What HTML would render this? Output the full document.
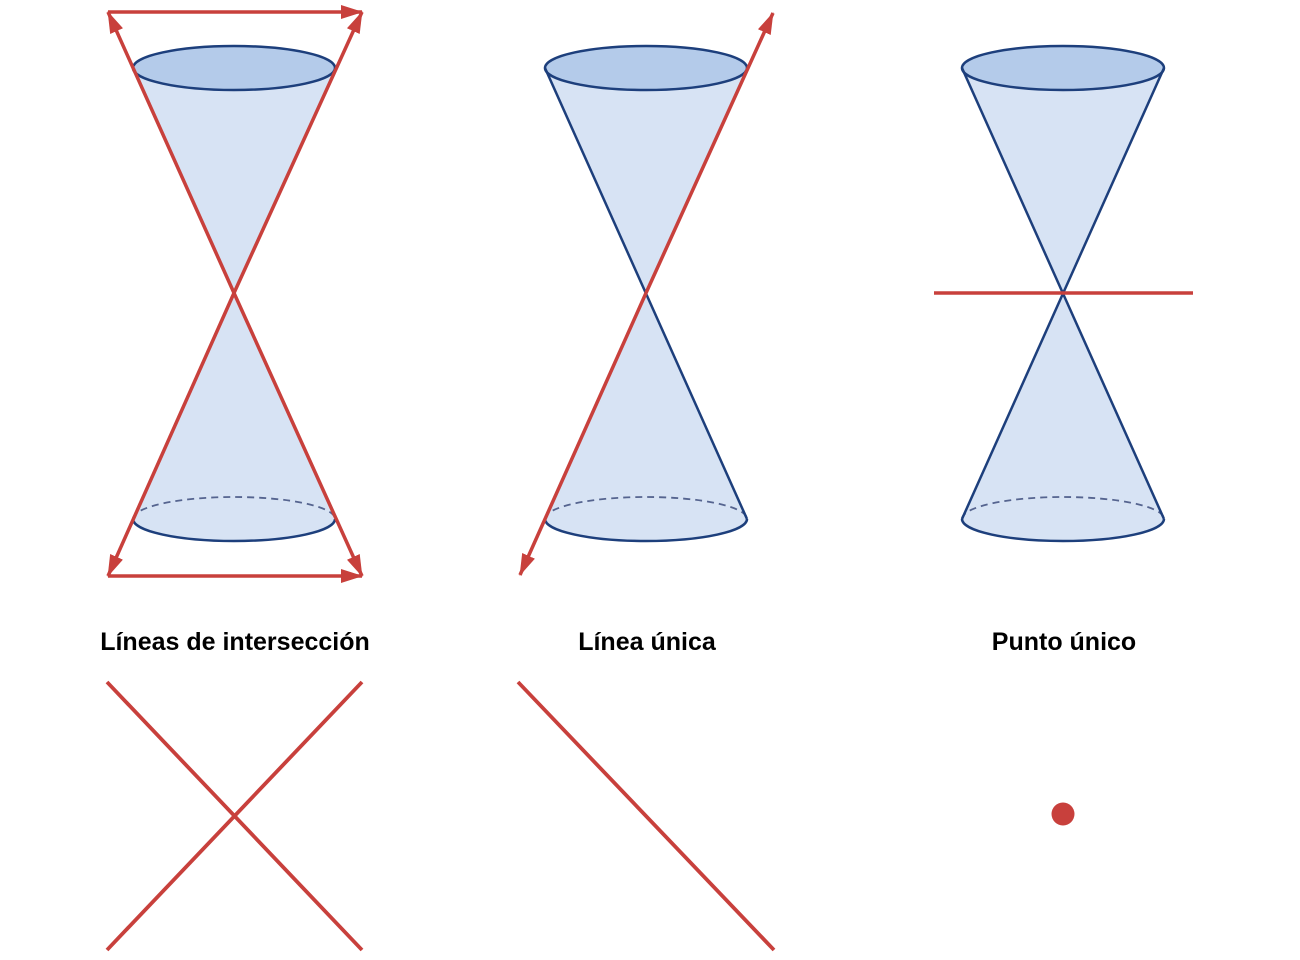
<!DOCTYPE html>
<html><head><meta charset="utf-8"><style>
html,body{margin:0;padding:0;background:#fff;}
svg{display:block}
text{font-family:"Liberation Sans",Arial,sans-serif;font-weight:bold;font-size:25px;fill:#000}
</style></head><body>
<svg width="1300" height="960" viewBox="0 0 1300 960" xmlns="http://www.w3.org/2000/svg">
<defs>
<marker id="ah2" markerWidth="22" markerHeight="16" refX="21" refY="8" orient="auto" markerUnits="userSpaceOnUse" viewBox="0 0 22 16">
<path d="M0,1 L22,8 L0,15 Z" fill="#c8403c"/>
</marker>
<g id="cone">
<path d="M-101,0 L0,225 L101,0 Z" fill="#d7e3f4"/>
<path d="M-101,451 L0,225 L101,451 Z" fill="#d7e3f4"/>
<path d="M-101,451 A101,22 0 0 0 101,451 Z" fill="#d7e3f4"/>
<ellipse cx="0" cy="0" rx="101" ry="22" fill="#b4cbea" stroke="#1d3f7c" stroke-width="2.5"/>
<path d="M-101,451 A101,22 0 0 1 101,451" fill="none" stroke="#55648f" stroke-width="1.8" stroke-dasharray="7,5"/>
<path d="M-101,451 A101,22 0 0 0 101,451" fill="none" stroke="#1d3f7c" stroke-width="2.5"/>
</g>
</defs>
<use href="#cone" x="234" y="68"/>
<g stroke="#c8403c" stroke-width="3.5" fill="none">
<line x1="234" y1="293" x2="108" y2="12" marker-end="url(#ah2)"/>
<line x1="234" y1="293" x2="362" y2="12" marker-end="url(#ah2)"/>
<line x1="234" y1="293" x2="108" y2="576" marker-end="url(#ah2)"/>
<line x1="234" y1="293" x2="362" y2="576" marker-end="url(#ah2)"/>
<line x1="108" y1="12" x2="362" y2="12" marker-end="url(#ah2)"/>
<line x1="108" y1="576" x2="362" y2="576" marker-end="url(#ah2)"/>
</g>
<use href="#cone" x="646" y="68"/>
<line x1="545" y1="68" x2="747" y2="519" stroke="#1d3f7c" stroke-width="2.5"/>
<g stroke="#c8403c" stroke-width="3.5" fill="none">
<line x1="646" y1="293" x2="773" y2="13" marker-end="url(#ah2)"/>
<line x1="646" y1="293" x2="520" y2="575" marker-end="url(#ah2)"/>
</g>
<use href="#cone" x="1063" y="68"/>
<g fill="none" stroke-width="2.5" stroke="#1d3f7c">
<line x1="962" y1="68" x2="1164" y2="519"/>
<line x1="1164" y1="68" x2="962" y2="519"/>
</g>
<line x1="934" y1="293" x2="1193" y2="293" stroke="#c8403c" stroke-width="3.5"/>
<text x="235" y="650" text-anchor="middle">Líneas de intersección</text>
<text x="647" y="650" text-anchor="middle">Línea única</text>
<text x="1064" y="650" text-anchor="middle">Punto único</text>
<g stroke="#c8403c" stroke-width="3.8">
<line x1="107" y1="682" x2="362" y2="950"/>
<line x1="362" y1="682" x2="107" y2="950"/>
<line x1="518" y1="682" x2="774" y2="950"/>
</g>
<circle cx="1063" cy="814" r="11.5" fill="#c8403c"/>
</svg>
</body></html>
